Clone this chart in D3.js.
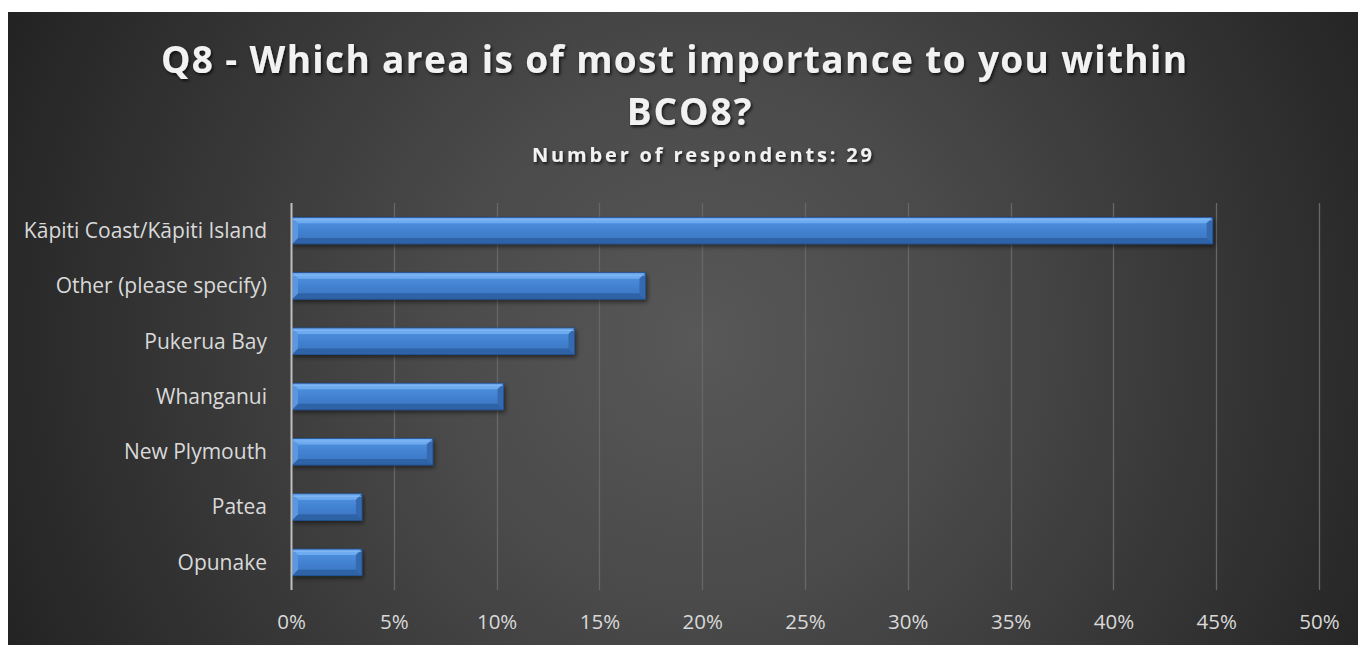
<!DOCTYPE html>
<html>
<head>
<meta charset="utf-8">
<script src="https://cdn.jsdelivr.net/npm/d3@7"></script>
<style>
  html, body { margin: 0; padding: 0; background: #ffffff; }
  svg { display: block; }
</style>
</head>
<body>
<svg id="chart" width="1358" height="645"></svg>
<script>
const categories = ["Kāpiti Coast/Kāpiti Island", "Other (please specify)", "Pukerua Bay", "Whanganui", "New Plymouth", "Patea", "Opunake"];
const values = [44.83, 17.24, 13.79, 10.34, 6.90, 3.45, 3.45];
const tickValues = [0, 5, 10, 15, 20, 25, 30, 35, 40, 45, 50];
const titleLines = ["Q8 - Which area is of most importance to you within", "BCO8?"];
const subtitle = "Number of respondents: 29";

const W = 1358, H = 645;
const svg = d3.select("#chart");
const defs = svg.append("defs");

const bg = defs.append("radialGradient").attr("id", "bg")
  .attr("gradientUnits", "userSpaceOnUse")
  .attr("cx", 700).attr("cy", 340).attr("r", 760);
bg.append("stop").attr("offset", "0").attr("stop-color", "#585858");
bg.append("stop").attr("offset", "0.35").attr("stop-color", "#4a4a4a");
bg.append("stop").attr("offset", "1").attr("stop-color", "#232323");

const bodyGrad = defs.append("linearGradient").attr("id", "barBody")
  .attr("x1", 0).attr("y1", 0).attr("x2", 0).attr("y2", 1);
bodyGrad.append("stop").attr("offset", "0").attr("stop-color", "#5596e2");
bodyGrad.append("stop").attr("offset", "0.45").attr("stop-color", "#4384d3");
bodyGrad.append("stop").attr("offset", "1").attr("stop-color", "#3a72bd");

const shadow = defs.append("filter").attr("id", "tshadow")
  .attr("x", "-5%").attr("y", "-30%").attr("width", "110%").attr("height", "160%");
shadow.append("feDropShadow").attr("dx", 1.5).attr("dy", 2).attr("stdDeviation", 1.6)
  .attr("flood-color", "#000").attr("flood-opacity", 0.7);

const barShadow = defs.append("filter").attr("id", "bshadow")
  .attr("x", "-5%").attr("y", "-30%").attr("width", "110%").attr("height", "170%");
barShadow.append("feDropShadow").attr("dx", 1.5).attr("dy", 2.5).attr("stdDeviation", 2)
  .attr("flood-color", "#000").attr("flood-opacity", 0.5);

svg.append("rect").attr("x", 8).attr("y", 12).attr("width", W - 8).attr("height", H - 12)
  .attr("fill", "url(#bg)");

// Title
const fontFam = "'Open Sans', 'DejaVu Sans', sans-serif";
svg.append("text").attr("x", 674).attr("y", 73)
  .attr("text-anchor", "middle").attr("font-family", fontFam)
  .attr("font-weight", "bold").attr("font-size", 37).attr("fill", "#f2f2f2")
  .attr("textLength", 1026).attr("lengthAdjust", "spacing")
  .attr("filter", "url(#tshadow)").text(titleLines[0]);
svg.append("text").attr("x", 690).attr("y", 125)
  .attr("text-anchor", "middle").attr("font-family", fontFam)
  .attr("font-weight", "bold").attr("font-size", 37).attr("fill", "#f2f2f2")
  .attr("letter-spacing", 2)
  .attr("filter", "url(#tshadow)").text(titleLines[1]);
svg.append("text").attr("x", 702).attr("y", 162)
  .attr("text-anchor", "middle").attr("font-family", fontFam)
  .attr("font-weight", "bold").attr("font-size", 20).attr("fill", "#f2f2f2")
  .attr("textLength", 340).attr("lengthAdjust", "spacing")
  .attr("filter", "url(#tshadow)").text(subtitle);

// Scales
const x = d3.scaleLinear().domain([0, 50]).range([291, 1319]);
const y = d3.scaleBand().domain(categories).range([203, 590]).paddingInner(0.52).paddingOuter(0.26);

// Grid
svg.append("g").selectAll("line").data(tickValues.slice(1)).join("line")
  .attr("x1", d => Math.round(x(d)) + 0.5).attr("x2", d => Math.round(x(d)) + 0.5)
  .attr("y1", 203).attr("y2", 590)
  .attr("stroke", "#676767").attr("stroke-width", 1.3);

// X axis labels
const xAxis = d3.axisBottom(x).tickValues(tickValues).tickFormat(d => d + "%").tickSize(0).tickPadding(0);
const gx = svg.append("g").attr("transform", "translate(0,629)").call(xAxis);
gx.select(".domain").remove();
gx.selectAll("text").attr("font-family", fontFam).attr("font-size", 20.5)
  .attr("fill", "#d9d9d9").attr("dy", 0).attr("y", 0);

// Y axis labels
const yAxis = d3.axisLeft(y).tickSize(0).tickPadding(0);
const gy = svg.append("g").attr("transform", "translate(267,0)").call(yAxis);
gy.select(".domain").remove();
gy.selectAll("text").attr("font-family", fontFam).attr("font-size", 21)
  .attr("fill", "#d9d9d9").attr("dy", "0.35em");

// Bars with bevel
const bars = svg.append("g").selectAll("g").data(categories.map((c, i) => ({c, v: values[i]}))).join("g")
  .attr("filter", "url(#bshadow)");
bars.each(function(d) {
  const g = d3.select(this);
  const x0 = x(0) + 1, x1 = x(d.v);
  const y0 = y(d.c), y1 = y(d.c) + y.bandwidth();
  const b = Math.min(6, (x1 - x0) / 2);
  g.append("rect").attr("x", x0).attr("y", y0).attr("width", x1 - x0).attr("height", y1 - y0)
    .attr("fill", "url(#barBody)");
  const poly = (pts, fill) => g.append("polygon").attr("points", pts.map(p => p.join(",")).join(" ")).attr("fill", fill);
  poly([[x0, y0], [x1, y0], [x1 - b, y0 + b], [x0 + b, y0 + b]], "#6eaaf0");
  poly([[x0, y1], [x1, y1], [x1 - b, y1 - b], [x0 + b, y1 - b]], "#2f64a8");
  poly([[x0, y0], [x0 + b, y0 + b], [x0 + b, y1 - b], [x0, y1]], "#5a97e0");
  poly([[x1, y0], [x1 - b, y0 + b], [x1 - b, y1 - b], [x1, y1]], "#3469b0");
  g.append("line").attr("x1", x0).attr("x2", x1).attr("y1", y0 + 2.5).attr("y2", y0 + 2.5)
    .attr("stroke", "#8cc0f7").attr("stroke-width", 1).attr("opacity", 0.7);
  g.append("rect").attr("x", x0).attr("y", y0).attr("width", x1 - x0).attr("height", y1 - y0)
    .attr("fill", "none").attr("stroke", "#1f4f8f").attr("stroke-width", 0.8);
});

// Vertical axis line
svg.append("line").attr("x1", 291.5).attr("x2", 291.5).attr("y1", 203).attr("y2", 590)
  .attr("stroke", "#bfbfbf").attr("stroke-width", 2);
</script>
</body>
</html>
